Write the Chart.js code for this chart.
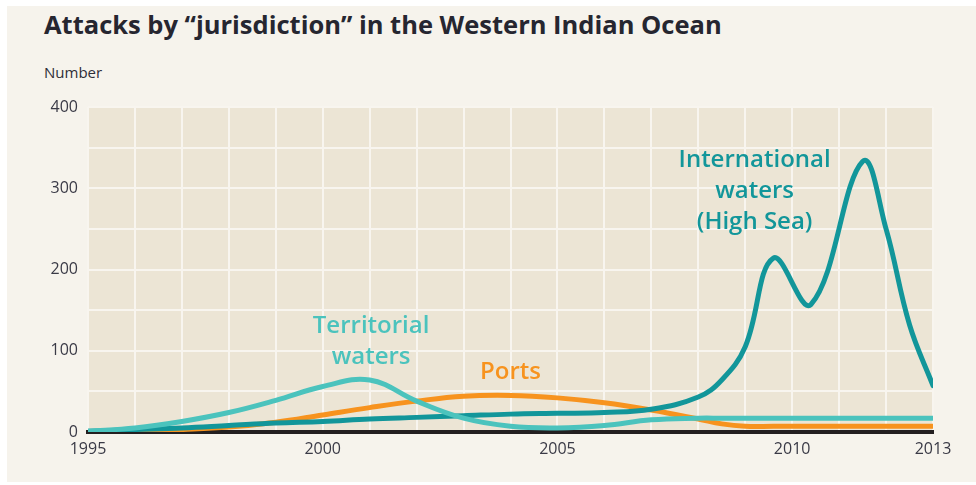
<!DOCTYPE html>
<html>
<head>
<meta charset="utf-8">
<script src="https://cdn.jsdelivr.net/npm/chart.js@4"></script>
<style>
  html, body { margin: 0; padding: 0; background: #ffffff; }
  body { width: 976px; height: 485px; position: relative; overflow: hidden; font-family: "Open Sans", sans-serif; }
  #panel { position: absolute; left: 7px; top: 6px; width: 969px; height: 476px; background: #f6f3ec; }
  #title { position: absolute; left: 44px; top: 7px; font-size: 25.5px; font-weight: 700; color: #262630; white-space: nowrap; }
  #unit { position: absolute; left: 44px; top: 62px; font-size: 15px; color: #2e2e38; }
  #wrap { position: absolute; left: 0; top: 0; width: 976px; height: 485px; }
</style>
</head>
<body>
<div id="panel"></div>
<div id="title">Attacks by “jurisdiction” in the Western Indian Ocean</div>
<div id="unit">Number</div>
<div id="wrap"><canvas id="chart" width="976" height="485"></canvas></div>

<script>
// extra points where the high-sea line turns
const years = [1995, 1996, 1997, 1998, 1999, 2000, 2001, 2002, 2003, 2004, 2005, 2006, 2007, 2008,
  2008.5, 2009, 2009.6, 2010.4, 2011.5, 2012, 2012.5, 2013];

const international = [1, 3, 5, 8, 11, 13, 16, 18, 20, 22, 23, 24, 28, 43,
  64, 105, 214, 157, 333, 250, 132, 57];
const territorial = [1, 5, 13, 24, 39, 56, 64, 38, 17, 7, 5, 8, 15, 17,
  17, 17, 17, 17, 17, 17, 17, 17];
const ports = [0, 1, 3, 6, 12, 21, 30, 38, 44, 45, 42, 36, 27, 16,
  10, 7, 7, 7, 7, 7, 7, 7];

const xLabels = [1995, 2000, 2005, 2010, 2013];

const teal = "#12969a";
const lightTeal = "#4bc3bd";
const orange = "#f7931e";

function pts(vals) {
  return vals.map((v, i) => ({ x: years[i], y: v }));
}

// plot area fill + labels on the lines
const extras = {
  id: "extras",
  beforeDraw(c) {
    const a = c.chartArea;
    c.ctx.save();
    c.ctx.fillStyle = "#ece5d5";
    c.ctx.fillRect(a.left, a.top, a.right - a.left, a.bottom - a.top);
    c.ctx.restore();
  },
  afterDatasetsDraw(c) {
    const ctx = c.ctx;
    const x = c.scales.x, y = c.scales.y;
    const notes = [
      { lines: ["International", "waters", "(High Sea)"], at: [2009.2, 335], color: teal },
      { lines: ["Territorial", "waters"], at: [2001.03, 130], color: lightTeal },
      { lines: ["Ports"], at: [2004.0, 74], color: orange }
    ];
    ctx.save();
    ctx.font = "600 24px 'Open Sans'";
    ctx.textAlign = "center";
    ctx.textBaseline = "middle";
    notes.forEach(n => {
      ctx.fillStyle = n.color;
      n.lines.forEach((t, i) => {
        ctx.fillText(t, x.getPixelForValue(n.at[0]), y.getPixelForValue(n.at[1]) + i * 31);
      });
    });
    ctx.restore();
  }
};

new Chart(document.getElementById("chart"), {
  type: "line",
  data: {
    datasets: [
      { label: "Territorial waters", data: pts(territorial), borderColor: lightTeal },
      { label: "International waters", data: pts(international), borderColor: teal },
      { label: "Ports", data: pts(ports), borderColor: orange }
    ]
  },
  options: {
    responsive: false,
    animation: false,
    devicePixelRatio: 1,
    layout: { padding: { top: 107, right: 43, bottom: 0, left: 0 } },
    elements: {
      line: { borderWidth: 5, tension: 0.4, borderCapStyle: "round", borderJoinStyle: "round", fill: false },
      point: { radius: 0 }
    },
    plugins: { legend: { display: false }, tooltip: { enabled: false } },
    scales: {
      x: {
        type: "linear",
        min: 1995,
        max: 2013,
        afterFit: s => { s.height = 53; },
        afterBuildTicks: s => {
          const t = [];
          for (let v = 1995; v <= 2013; v++) t.push({ value: v });
          s.ticks = t;
        },
        grid: { color: "#f8f5ef", lineWidth: 2, drawTicks: false },
        border: { display: true, color: "#231f20", width: 4 },
        ticks: {
          padding: 8,
          maxRotation: 0,
          autoSkip: false,
          color: "#3a3a46",
          font: { family: "Open Sans", size: 16 },
          callback: v => xLabels.includes(v) ? String(v) : ""
        }
      },
      y: {
        min: 0,
        max: 400,
        afterFit: s => { s.width = 88; },
        grid: { color: "#f8f5ef", lineWidth: 2, drawTicks: false },
        border: { display: false },
        ticks: {
          stepSize: 50,
          padding: 10,
          color: "#3a3a46",
          font: { family: "Open Sans", size: 16 },
          callback: v => v % 100 === 0 ? String(v) : ""
        }
      }
    }
  },
  plugins: [extras]
});
</script>
</body>
</html>
